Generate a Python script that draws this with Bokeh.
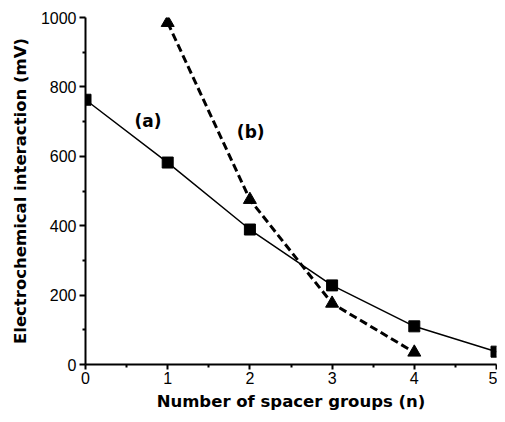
from bokeh.plotting import figure
from bokeh.models import Range1d, Label, FixedTicker
from bokeh.embed import file_html
from bokeh.resources import INLINE

# Data
n_a = [0, 1, 2, 3, 4, 5]
mv_a = [763, 582, 389, 228, 110, 37]
n_b = [1, 2, 3, 4]
mv_b = [985, 475, 176, 35]
x_ticks = [0, 1, 2, 3, 4, 5]
x_minor = [0.5, 1.5, 2.5, 3.5, 4.5]
y_ticks = [0, 200, 400, 600, 800, 1000]
y_minor = [100, 300, 500, 700, 900]

TICK_FONT = "Liberation Sans"
TITLE_FONT = "DejaVu Sans"

p = figure(width=497, height=414, output_backend="svg", toolbar_location=None,
           x_range=Range1d(0, 5), y_range=Range1d(0, 1000),
           min_border_left=85, min_border_right=1, min_border_top=17, min_border_bottom=50)
p.outline_line_color = None
p.grid.visible = False
p.background_fill_color = "white"
p.border_fill_color = "white"

p.line(n_a, mv_a, line_color="black", line_width=1.5)
p.scatter(n_a, mv_a, marker="square", size=11, color="black")
p.line(n_b, mv_b, line_color="black", line_width=3, line_dash="8 4")
p.scatter(n_b, mv_b, marker="triangle", size=13, color="black")

p.add_layout(Label(x=0.76, y=703, text="(a)", text_font=TITLE_FONT, text_font_style="bold",
                   text_font_size="17px", text_align="center", text_baseline="middle",
                   text_color="black"))
p.add_layout(Label(x=2.01, y=669, text="(b)", text_font=TITLE_FONT, text_font_style="bold",
                   text_font_size="17px", text_align="center", text_baseline="middle",
                   text_color="black"))

for ax in (p.xaxis[0], p.yaxis[0]):
    ax.axis_line_width = 2
    ax.axis_line_color = "black"
    ax.major_tick_line_width = 2
    ax.minor_tick_line_width = 2
    ax.major_tick_in = 0
    ax.major_tick_out = 6
    ax.minor_tick_in = 0
    ax.minor_tick_out = 3
    ax.major_label_text_font = TICK_FONT
    ax.major_label_text_font_size = "16px"
    ax.major_label_text_color = "black"
    ax.axis_label_text_font = TITLE_FONT
    ax.axis_label_text_font_style = "bold"
    ax.axis_label_text_font_size = "16.5px"
    ax.axis_label_text_color = "black"

p.xaxis.ticker = FixedTicker(ticks=x_ticks, minor_ticks=x_minor)
p.yaxis.ticker = FixedTicker(ticks=y_ticks, minor_ticks=y_minor)
p.xaxis.axis_label = "Number of spacer groups (n)"
p.yaxis.axis_label = "Electrochemical interaction (mV)"
p.xaxis.major_tick_out = 5
p.xaxis.major_label_standoff = 2
p.xaxis.axis_label_standoff = 5
p.yaxis.major_label_standoff = 3
p.yaxis.axis_label_standoff = 8

open("out.html", "w").write(file_html(p, INLINE))
